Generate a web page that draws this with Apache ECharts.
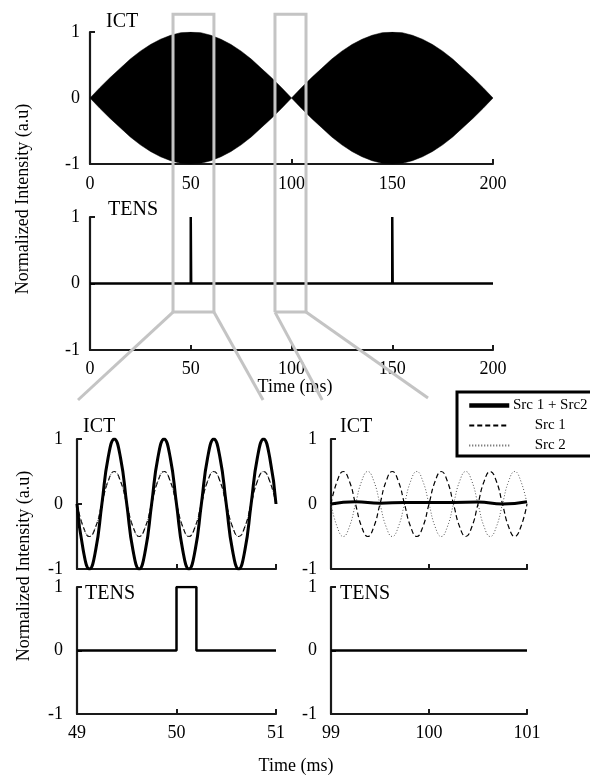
<!DOCTYPE html>
<html><head><meta charset="utf-8">
<script src="https://cdn.jsdelivr.net/npm/echarts@6.0.0/dist/echarts.min.js"></script>
<style>html,body{margin:0;padding:0;background:#fff}#c{width:590px;height:775px}</style>
</head><body><div id="c"></div>
<script>
// ---------- data ----------
const overviewTime = [0,5,10,15,20,25,30,35,40,45,50,55,60,65,70,75,80,85,90,95,100,
  105,110,115,120,125,130,135,140,145,150,155,160,165,170,175,180,185,190,195,200];
const ictEnvelope = [0,0.16,0.31,0.45,0.59,0.71,0.81,0.89,0.95,0.99,1,0.99,0.95,0.89,0.81,0.71,0.59,0.45,0.31,0.16,0,
  0.16,0.31,0.45,0.59,0.71,0.81,0.89,0.95,0.99,1,0.99,0.95,0.89,0.81,0.71,0.59,0.45,0.31,0.16,0];
const tensOverviewTime  = [0,50,50,50.2,50.2,150,150,150.2,150.2,200];
const tensOverviewValue = [0,0,1,1,0,0,1,1,0,0];

const zoomLeftTime = [49,49.0625,49.125,49.1875,49.25,49.3125,49.375,49.4375,49.5,49.5625,49.625,49.6875,49.75,49.8125,49.875,49.9375,
  50,50.0625,50.125,50.1875,50.25,50.3125,50.375,50.4375,50.5,50.5625,50.625,50.6875,50.75,50.8125,50.875,50.9375,51];
const leftSum  = [0,-0.71,-1,-0.71,0,0.71,1,0.71, 0,-0.71,-1,-0.71,0,0.71,1,0.71, 0,-0.71,-1,-0.71,0,0.71,1,0.71, 0,-0.71,-1,-0.71,0,0.71,1,0.71, 0];
const leftSrc1 = [0,-0.35,-0.5,-0.35,0,0.35,0.5,0.35, 0,-0.35,-0.5,-0.35,0,0.35,0.5,0.35, 0,-0.35,-0.5,-0.35,0,0.35,0.5,0.35, 0,-0.35,-0.5,-0.35,0,0.35,0.5,0.35, 0];
const leftSrc2 = [0,-0.35,-0.5,-0.35,0,0.35,0.5,0.35, 0,-0.35,-0.5,-0.35,0,0.35,0.5,0.35, 0,-0.35,-0.5,-0.35,0,0.35,0.5,0.35, 0,-0.35,-0.5,-0.35,0,0.35,0.5,0.35, 0];
const leftTensTime  = [49,50,50,50.2,50.2,51];
const leftTensValue = [0,0,1,1,0,0];

const zoomRightTime = [99,99.0625,99.125,99.1875,99.25,99.3125,99.375,99.4375,99.5,99.5625,99.625,99.6875,99.75,99.8125,99.875,99.9375,
  100,100.0625,100.125,100.1875,100.25,100.3125,100.375,100.4375,100.5,100.5625,100.625,100.6875,100.75,100.8125,100.875,100.9375,101];
const rightSrc1 = [0,0.35,0.5,0.35,0,-0.35,-0.5,-0.35, 0,0.35,0.5,0.35,0,-0.35,-0.5,-0.35, 0,0.35,0.5,0.35,0,-0.35,-0.5,-0.35, 0,0.35,0.5,0.35,0,-0.35,-0.5,-0.35, 0];
const rightSrc2 = [0,-0.35,-0.5,-0.35,0,0.35,0.5,0.35, 0,-0.35,-0.5,-0.35,0,0.35,0.5,0.35, 0,-0.35,-0.5,-0.35,0,0.35,0.5,0.35, 0,-0.35,-0.5,-0.35,0,0.35,0.5,0.35, 0];
const rightSumTime = [99,99.25,99.5,99.75,100,100.25,100.5,100.75,101];
const rightSum     = [0,0.035,0.01,0.025,0.025,0.025,0.03,0.0,0.035];
const rightTensTime  = [99,101];
const rightTensValue = [0,0];

const overviewTicks = [0, 200, 50];
const yTicks = [-1, 1, 1];
const leftTicks = [49, 51, 1];
const rightTicks = [99, 101, 1];

// zoom boxes (data units on the overview axes)
const zoomBoxes = [[41.2, 61.5], [91.8, 107.2]];
const boxTopValue = 1.27, boxBottomValue = -0.43;

// ---------- build ----------
const FONT = '"Liberation Serif", "Times New Roman", serif';
const AX = '#1a1a1a';
const zip = (a, b) => a.map((v, i) => [v, b[i]]);

function xAx(gi, ticks, showLabel, margin) {
  return {
    type: 'value', gridIndex: gi, min: ticks[0], max: ticks[1], interval: ticks[2],
    axisLine: {show: true, onZero: false, lineStyle: {color: AX, width: 2.2}},
    axisTick: {show: true, inside: true, length: 5, lineStyle: {color: AX, width: 2}},
    splitLine: {show: false},
    axisLabel: {show: showLabel, fontFamily: FONT, fontSize: 18, color: '#000', margin: margin || 10, hideOverlap: false},
  };
}
function yAx(gi, margin) {
  return {
    type: 'value', gridIndex: gi, min: yTicks[0], max: yTicks[1], interval: yTicks[2],
    axisLine: {show: true, onZero: false, lineStyle: {color: AX, width: 2.2}},
    axisTick: {show: true, inside: true, length: 5, lineStyle: {color: AX, width: 2}},
    splitLine: {show: false},
    axisLabel: {fontFamily: FONT, fontSize: 18, color: '#000', margin: margin, align: 'right'},
  };
}
function line(name, gi, data, style, extra) {
  return Object.assign({
    type: 'line', name: name, xAxisIndex: gi, yAxisIndex: gi, data: data,
    symbol: 'none', showSymbol: false, animation: false, silent: true,
    lineStyle: style, z: 3,
  }, extra || {});
}

const sumStyle = {color: '#000', width: 3};
const src1Style = {color: '#000', width: 1.2, type: [5, 3]};
const src2Style = {color: '#555', width: 1, type: [1, 2]};

const option = {
  animation: false,
  backgroundColor: '#fff',
  grid: [
    {left: 90, top: 32, width: 403, height: 132},
    {left: 90, top: 217, width: 403, height: 133},
    {left: 77, top: 439, width: 199, height: 130},
    {left: 77, top: 587, width: 199, height: 127},
    {left: 331, top: 439, width: 196, height: 130},
    {left: 331, top: 587, width: 196, height: 127},
  ],
  xAxis: [
    xAx(0, overviewTicks, true, 11),
    xAx(1, overviewTicks, true, 10),
    xAx(2, leftTicks, false),
    xAx(3, leftTicks, true, 10),
    xAx(4, rightTicks, false),
    xAx(5, rightTicks, true, 10),
  ],
  yAxis: [yAx(0, 10), yAx(1, 10), yAx(2, 14), yAx(3, 14), yAx(4, 14), yAx(5, 14)],
  legend: {
    left: 457, top: 392, orient: 'vertical',
    data: [
      {name: 'Src 1 + Src2', lineStyle: {width: 4.5}},
      {name: 'Src 1'},
      {name: 'Src 2'},
    ],
    borderColor: '#000', borderWidth: 3, borderRadius: 0,
    padding: [6, 4, 3, 10], itemWidth: 40, itemHeight: 14, itemGap: 5,
    itemStyle: {opacity: 0},
    selectedMode: false,
    formatter: n => '{c|' + n + '}',
    textStyle: {rich: {c: {width: 72, align: 'center', fontFamily: FONT, fontSize: 15, color: '#000'}}},
  },
  series: [
    line('envUp', 0, zip(overviewTime, ictEnvelope), {width: 0.5, color: '#000'}, {areaStyle: {color: '#000', opacity: 1}}),
    line('envDown', 0, zip(overviewTime, ictEnvelope.map(v => -v)), {width: 0.5, color: '#000'}, {areaStyle: {color: '#000', opacity: 1}}),
    line('tensTop', 1, zip(tensOverviewTime, tensOverviewValue), {color: '#000', width: 2.5}),
    line('Src 1', 2, zip(zoomLeftTime, leftSrc1), src1Style, {smooth: 0.5}),
    line('Src 2', 2, zip(zoomLeftTime, leftSrc2), src2Style, {smooth: 0.5}),
    line('Src 1 + Src2', 2, zip(zoomLeftTime, leftSum), sumStyle, {smooth: 0.5}),
    line('tensLeft', 3, zip(leftTensTime, leftTensValue), {color: '#000', width: 2.5}),
    line('Src 1', 4, zip(zoomRightTime, rightSrc1), src1Style, {smooth: 0.5}),
    line('Src 2', 4, zip(zoomRightTime, rightSrc2), src2Style, {smooth: 0.5}),
    line('Src 1 + Src2', 4, zip(rightSumTime, rightSum), sumStyle, {smooth: 0.5}),
    line('tensRight', 5, zip(rightTensTime, rightTensValue), {color: '#000', width: 2.5}),
  ],
};

const chart = echarts.init(document.getElementById('c'), null, {renderer: 'canvas'});
chart.setOption(option);

// ---------- annotations (text + zoom boxes) ----------
function txt(t, x, y, size, extra) {
  return Object.assign({type: 'text', x: x, y: y, z: 50,
    style: {text: t, font: size + 'px ' + FONT, fill: '#000', align: 'left', verticalAlign: 'middle'}}, extra || {});
}
function txtC(t, x, y, size, rot) {
  return {type: 'text', x: x, y: y, rotation: rot || 0, z: 50,
    style: {text: t, font: size + 'px ' + FONT, fill: '#000', align: 'center', verticalAlign: 'middle'}};
}
const G = [];
G.push(txt('ICT', 106, 22, 20));
G.push(txt('TENS', 108, 210, 20));
G.push(txt('ICT', 83, 427, 20));
G.push(txt('TENS', 85, 594, 20));
G.push(txt('ICT', 340, 427, 20));
G.push(txt('TENS', 340, 594, 20));
G.push(txtC('Time (ms)', 295, 387, 18));
G.push(txtC('Time (ms)', 296, 766, 18));
G.push(txtC('Normalized Intensity (a.u)', 23, 199, 18, Math.PI / 2));
G.push(txtC('Normalized Intensity (a.u)', 24, 566, 18, Math.PI / 2));

const gray = {stroke: '#c4c4c4', lineWidth: 3, fill: null};
const ends = [
  [chart.convertToPixel({gridIndex: 2}, [49.01, 1.6]), chart.convertToPixel({gridIndex: 2}, [50.87, 1.6])],
  [chart.convertToPixel({gridIndex: 4}, [98.91, 1.6]), chart.convertToPixel({gridIndex: 4}, [99.99, 1.63])],
];
zoomBoxes.forEach((b, i) => {
  const tl = chart.convertToPixel({gridIndex: 0}, [b[0], boxTopValue]);
  const br = chart.convertToPixel({gridIndex: 1}, [b[1], boxBottomValue]);
  G.push({type: 'polyline', z: 100, shape: {points: [[tl[0], br[1]], [tl[0], tl[1]], [br[0], tl[1]], [br[0], br[1]]]}, style: gray});
  G.push({type: 'line', z: 100, shape: {x1: tl[0], y1: br[1], x2: br[0], y2: br[1]}, style: gray});
  G.push({type: 'line', z: 100, shape: {x1: tl[0], y1: br[1], x2: ends[i][0][0], y2: ends[i][0][1]}, style: gray});
  G.push({type: 'line', z: 100, shape: {x1: br[0], y1: br[1], x2: ends[i][1][0], y2: ends[i][1][1]}, style: gray});
});
chart.setOption({graphic: G});
</script>
</body></html>
